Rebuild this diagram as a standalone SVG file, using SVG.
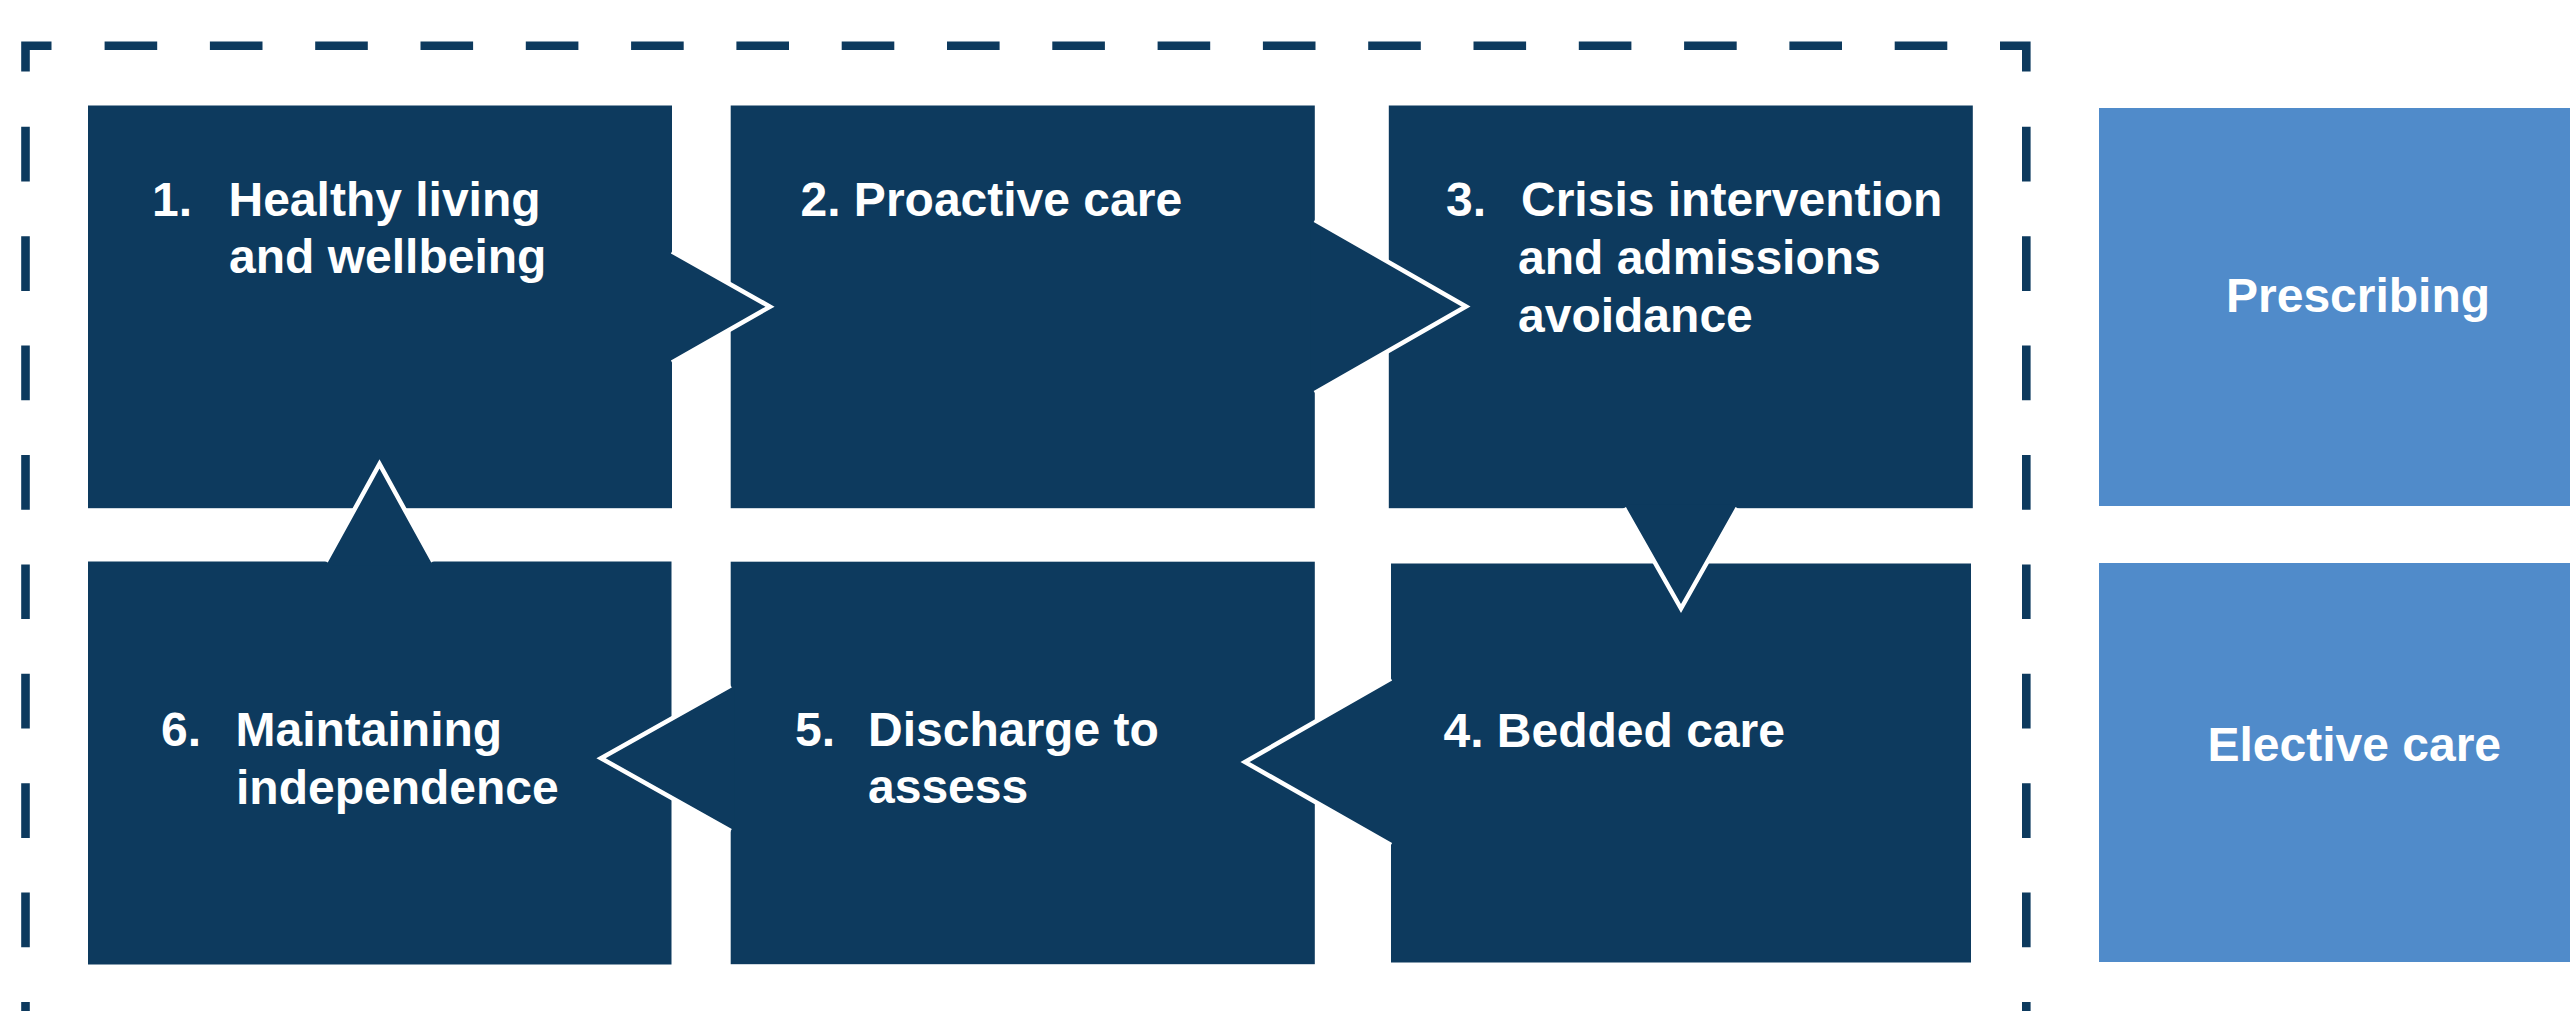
<svg xmlns="http://www.w3.org/2000/svg" width="2570" height="1011" viewBox="0 0 2570 1011">
<style>
.dark{fill:#0d3a5e}
.light{fill:#508bca}
.t{font-family:"Liberation Sans",Arial,Helvetica,sans-serif;font-weight:bold;font-size:48px;fill:#ffffff}
.af{fill:#0d3a5e;stroke:none}
.al{fill:none;stroke:#ffffff;stroke-width:4.5;stroke-linejoin:miter;stroke-miterlimit:10}
.dash{fill:none;stroke:#0d3a5e;stroke-width:8.6}
</style>
<rect width="2570" height="1011" fill="#ffffff"/>
<g id="boundary">
<path class="dash" d="M25.5,71.4 L25.5,45.7 L51.5,45.7"/>
<path class="dash" d="M2000,45.7 L2026.3,45.7 L2026.3,71.4"/>
<path class="dash" d="M104.6,45.7 H1948" stroke-dasharray="52.6 52.7"/>
<path class="dash" d="M25.5,126.8 V1011" stroke-dasharray="54.7 54.7"/>
<path class="dash" d="M2026.3,126.8 V1011" stroke-dasharray="54.7 54.7"/>
</g>
<g id="node1">
<rect class="dark" x="88" y="105.5" width="584" height="402.7"/>
<text class="t" x="152" y="216">1.</text>
<text class="t" x="228.5" y="216">Healthy living</text>
<text class="t" x="229" y="273">and wellbeing</text>
</g>
<g id="node2">
<rect class="dark" x="730.7" y="105.5" width="584.1" height="402.7"/>
<text class="t" x="800.5" y="216">2. Proactive care</text>
</g>
<g id="node3">
<rect class="dark" x="1388.8" y="105.5" width="584" height="402.7"/>
<text class="t" x="1446" y="216">3.</text>
<text class="t" x="1521" y="216">Crisis intervention</text>
<text class="t" x="1518" y="274">and admissions</text>
<text class="t" x="1518" y="331.5">avoidance</text>
</g>
<g id="node4">
<rect class="dark" x="1391" y="563.5" width="580" height="399"/>
<text class="t" x="1443.5" y="746.8">4. Bedded care</text>
</g>
<g id="node5">
<rect class="dark" x="730.7" y="561.7" width="584.1" height="402.5"/>
<text class="t" x="795" y="745.5">5.</text>
<text class="t" x="868" y="745.5">Discharge to</text>
<text class="t" x="868" y="803.3">assess</text>
</g>
<g id="node6">
<rect class="dark" x="88" y="561.5" width="583.5" height="403"/>
<text class="t" x="161" y="746">6.</text>
<text class="t" x="235.5" y="746">Maintaining</text>
<text class="t" x="236" y="804">independence</text>
</g>
<g id="node7">
<rect class="light" x="2099" y="108" width="471" height="398"/>
<text class="t" x="2226" y="311.7">Prescribing</text>
</g>
<g id="node8">
<rect class="light" x="2099" y="563" width="471" height="399"/>
<text class="t" x="2207.5" y="761">Elective care</text>
</g>
<g id="connectors">
<polygon class="af" points="668,251.5 672,251.5 770,306.7 672,362.5 668,362.5"/>
<polyline class="al" points="672,251.5 770,306.7 672,362.5"/>
<polygon class="af" points="1310.8,220 1314.8,220 1466,306.5 1314.8,393 1310.8,393"/>
<polyline class="al" points="1314.8,220 1466,306.5 1314.8,393"/>
<polygon class="af" points="1624,504.2 1624,508.2 1681,608.5 1737.5,508.2 1737.5,504.2"/>
<polyline class="al" points="1624,508.2 1681,608.5 1737.5,508.2"/>
<polygon class="af" points="1395,678.5 1391,678.5 1245,762 1391,845 1395,845"/>
<polyline class="al" points="1391,678.5 1245,762 1391,845"/>
<polygon class="af" points="734.7,685.5 730.7,685.5 601,758.2 730.7,831 734.7,831"/>
<polyline class="al" points="730.7,685.5 601,758.2 730.7,831"/>
<polygon class="af" points="325.8,565.5 325.8,561.5 379.5,464 433.2,561.5 433.2,565.5"/>
<polyline class="al" points="325.8,561.5 379.5,464 433.2,561.5"/>
</g>
</svg>
